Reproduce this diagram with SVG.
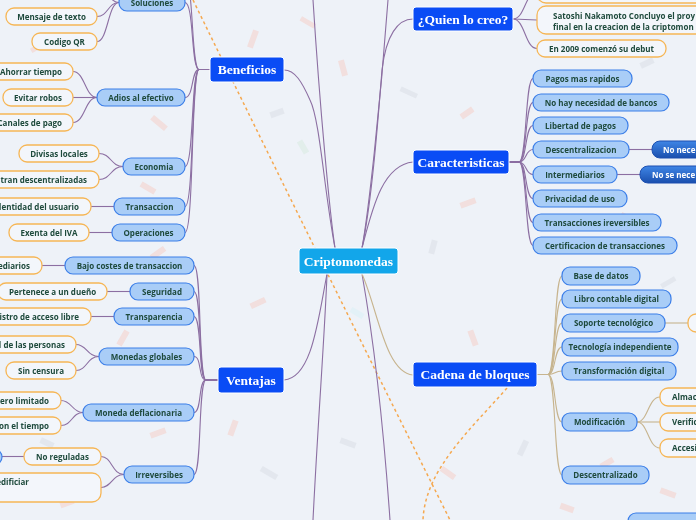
<svg xmlns="http://www.w3.org/2000/svg" width="696" height="520" viewBox="0 0 696 520">
<defs>
<style>
.bg{fill:#eef2f8}
.cf{opacity:0.4}
.main{fill:#0a4cf5;stroke:#ffffff;stroke-width:1}
.center{fill:#12a6ea;stroke:#ffffff;stroke-width:1}
.mt{font-family:"Liberation Serif",serif;font-weight:bold;font-size:13.5px;fill:#ffffff;text-anchor:middle}
.sub{fill:#a9cdf7;stroke:#3b7ee8;stroke-width:1.2}
.leaf{fill:#f3f6fb;stroke:#f6b656;stroke-width:1.3}
.dark{fill:url(#dg);stroke:#1c4fb0;stroke-width:1}
.t{font-family:"Open Sans","Noto Sans",sans-serif;font-weight:bold;font-size:8px;fill:#1e4a3c;text-anchor:middle}
.tw{font-family:"Open Sans","Noto Sans",sans-serif;font-weight:bold;font-size:8px;fill:#ffffff}
.te{text-anchor:end}
.ts{text-anchor:start}
.c{fill:none;stroke:#8c6fa2;stroke-width:1.1}
.ct{fill:none;stroke:#c7b48e;stroke-width:1.1}
.dash{fill:none;stroke:#f5a84f;stroke-width:1.5;stroke-dasharray:3 3}
</style>
<linearGradient id="dg" x1="0" y1="0" x2="0" y2="1">
<stop offset="0" stop-color="#3f86e6"/>
<stop offset="1" stop-color="#1a4fae"/>
</linearGradient>
</defs>
<rect class="bg" x="0" y="0" width="696" height="520"/>
<g id="confetti" class="cf">
<rect x="30" y="45" width="14" height="5" fill="#f8c2b6" transform="rotate(-30 37 47)"/>
<rect x="150" y="120" width="18" height="6" fill="#f8c2b6" transform="rotate(40 159 123)"/>
<rect x="250" y="30" width="6" height="18" fill="#f8c2b6" transform="rotate(20 253 39)"/>
<rect x="270" y="110" width="14" height="6" fill="#d3d8df" transform="rotate(-20 277 113)"/>
<rect x="300" y="20" width="16" height="5" fill="#f8c2b6" transform="rotate(30 308 22)"/>
<rect x="340" y="60" width="6" height="16" fill="#f8c2b6" transform="rotate(-15 343 68)"/>
<rect x="400" y="90" width="18" height="5" fill="#d3d8df" transform="rotate(25 409 92)"/>
<rect x="460" y="110" width="14" height="6" fill="#f8c2b6" transform="rotate(-35 467 113)"/>
<rect x="590" y="10" width="6" height="16" fill="#f8c2b6" transform="rotate(30 593 18)"/>
<rect x="640" y="60" width="14" height="6" fill="#d3d8df" transform="rotate(-25 647 63)"/>
<rect x="460" y="200" width="16" height="6" fill="#f8c2b6" transform="rotate(-20 468 203)"/>
<rect x="430" y="240" width="6" height="14" fill="#d3d8df" transform="rotate(15 433 247)"/>
<rect x="620" y="215" width="14" height="6" fill="#f8c2b6" transform="rotate(30 627 218)"/>
<rect x="660" y="280" width="16" height="5" fill="#d3d8df" transform="rotate(-30 668 282)"/>
<rect x="470" y="330" width="6" height="16" fill="#f8c2b6" transform="rotate(-20 473 338)"/>
<rect x="440" y="470" width="16" height="6" fill="#f8c2b6" transform="rotate(35 448 473)"/>
<rect x="520" y="440" width="6" height="16" fill="#d3d8df" transform="rotate(25 523 448)"/>
<rect x="600" y="460" width="14" height="6" fill="#f8c2b6" transform="rotate(-30 607 463)"/>
<rect x="660" y="490" width="16" height="6" fill="#f8c2b6" transform="rotate(20 668 493)"/>
<rect x="250" y="300" width="16" height="6" fill="#f8c2b6" transform="rotate(-25 258 303)"/>
<rect x="230" y="420" width="6" height="16" fill="#f8c2b6" transform="rotate(20 233 428)"/>
<rect x="260" y="470" width="18" height="6" fill="#d3d8df" transform="rotate(30 269 473)"/>
<rect x="150" y="430" width="16" height="6" fill="#f8c2b6" transform="rotate(-20 158 433)"/>
<rect x="40" y="440" width="14" height="6" fill="#d3d8df" transform="rotate(25 47 443)"/>
<rect x="120" y="330" width="6" height="16" fill="#f8c2b6" transform="rotate(30 123 338)"/>
<rect x="150" y="250" width="16" height="6" fill="#f8c2b6" transform="rotate(-35 158 253)"/>
<rect x="140" y="185" width="16" height="6" fill="#f8c2b6" transform="rotate(30 148 188)"/>
<rect x="60" y="500" width="14" height="6" fill="#f8c2b6" transform="rotate(-20 67 503)"/>
<rect x="340" y="440" width="16" height="6" fill="#d3d8df" transform="rotate(20 348 443)"/>
<rect x="300" y="140" width="6" height="14" fill="#cfe8d8" transform="rotate(-30 303 147)"/>
<rect x="350" y="310" width="14" height="6" fill="#d3f1f5" transform="rotate(30 357 313)"/>
<rect x="560" y="505" width="14" height="6" fill="#f8c2b6" transform="rotate(20 567 508)"/>
</g>
<g id="relations">
<path class="dash" d="M193,0 Q320,260 450,520"/>
<path class="dash" d="M507,388 C470,430 425,470 423,520"/>
</g>
<g id="connectors">
<path class="c" d="M335,248 C324,190 320,120 310,100 C302,82 295,70 284,70"/>
<path class="c" d="M335,248 C330,215 320,110 313,0"/>
<path class="c" d="M362,248 C368,215 380,110 388,0"/>
<path class="c" d="M362,248 C372,200 378,120 382,70 C386,35 398,19 413,19"/>
<path class="c" d="M362,248 C372,210 382,165 413,162"/>
<path class="c" d="M327,274 C318,320 312,378 284,380"/>
<path class="c" d="M327,274 C325,330 318,420 313,520"/>
<path class="c" d="M362,274 C372,330 383,420 390,520"/>
<path class="ct" d="M362,274 C378,310 385,372 413,375"/>
<path class="c" d="M210,69.5 L199,69.5 C191,69.5 194,-20 185,-20"/>
<path class="c" d="M210,69.5 L199,69.5 C191,69.5 194,2.5 185,2.5"/>
<path class="c" d="M210,69.5 L199,69.5 C191,69.5 194,97.5 185,97.5"/>
<path class="c" d="M210,69.5 L199,69.5 C191,69.5 194,166.5 185,166.5"/>
<path class="c" d="M210,69.5 L199,69.5 C191,69.5 194,206.5 185,206.5"/>
<path class="c" d="M210,69.5 L199,69.5 C191,69.5 194,232.5 185,232.5"/>
<path class="c" d="M218,380 L206,380 C198,380 202,265.5 194,265.5"/>
<path class="c" d="M218,380 L206,380 C198,380 202,291.5 194,291.5"/>
<path class="c" d="M218,380 L206,380 C198,380 202,316.5 194,316.5"/>
<path class="c" d="M218,380 L206,380 C198,380 202,356.5 194,356.5"/>
<path class="c" d="M218,380 L206,380 C198,380 202,412.5 194,412.5"/>
<path class="c" d="M218,380 L206,380 C198,380 202,474.5 194,474.5"/>
<path class="c" d="M119,2.5 C108,2.5 108,-15 97,-15"/>
<path class="c" d="M119,2.5 C108,2.5 108,16.5 97,16.5"/>
<path class="c" d="M119,2.5 C108,2.5 108,41.5 97,41.5"/>
<path class="c" d="M97,97.5 C85,97.5 85,71.5 73,71.5"/>
<path class="c" d="M97,97.5 L73,97.5"/>
<path class="c" d="M97,97.5 C85,97.5 85,122.5 73,122.5"/>
<path class="c" d="M123,166.5 C111,166.5 111,153.5 99,153.5"/>
<path class="c" d="M123,166.5 C111,166.5 111,179.5 99,179.5"/>
<path class="c" d="M114,206.5 L91,206.5"/>
<path class="c" d="M112,232.5 L89,232.5"/>
<path class="c" d="M65,265.5 L42,265.5"/>
<path class="c" d="M130,291.5 L107,291.5"/>
<path class="c" d="M114,316.5 L91,316.5"/>
<path class="c" d="M99,356.5 C87,356.5 87,344.5 76,344.5"/>
<path class="c" d="M99,356.5 C87,356.5 87,370.5 76,370.5"/>
<path class="c" d="M83,412.5 C72,412.5 72,400.5 61,400.5"/>
<path class="c" d="M83,412.5 C72,412.5 72,425.5 61,425.5"/>
<path class="c" d="M124,474.5 C112,474.5 112,456.5 101,456.5"/>
<path class="c" d="M124,474.5 C112,474.5 112,487.5 101,487.5"/>
<path class="c" d="M24,456.5 L2,456.5"/>
<path class="c" d="M513,19 C525,19 525,-8 537,-8"/>
<path class="c" d="M513,19 L537,20"/>
<path class="c" d="M513,19 C525,19 525,48.5 537,48.5"/>
<path class="c" d="M509,162 L519,162 C527,162 525,78.5 533,78.5"/>
<path class="c" d="M509,162 L519,162 C527,162 525,102.5 533,102.5"/>
<path class="c" d="M509,162 L519,162 C527,162 525,125.5 533,125.5"/>
<path class="c" d="M509,162 L519,162 C527,162 525,149.5 533,149.5"/>
<path class="c" d="M509,162 L519,162 C527,162 525,174.5 533,174.5"/>
<path class="c" d="M509,162 L519,162 C527,162 525,198.5 533,198.5"/>
<path class="c" d="M509,162 L519,162 C527,162 525,222.5 533,222.5"/>
<path class="c" d="M509,162 L519,162 C527,162 525,245.5 533,245.5"/>
<path class="c" d="M629,149.5 L652,149.5"/>
<path class="c" d="M617,174.5 L640,174.5"/>
<path class="ct" d="M537,374.5 L548,374.5 C556,374.5 554,276 562,276"/>
<path class="ct" d="M537,374.5 L548,374.5 C556,374.5 554,299 562,299"/>
<path class="ct" d="M537,374.5 L548,374.5 C556,374.5 554,323 562,323"/>
<path class="ct" d="M537,374.5 L548,374.5 C556,374.5 554,347 562,347"/>
<path class="ct" d="M537,374.5 L548,374.5 C556,374.5 554,371 562,371"/>
<path class="ct" d="M537,374.5 L548,374.5 C556,374.5 554,422 562,422"/>
<path class="ct" d="M537,374.5 L548,374.5 C556,374.5 554,475 562,475"/>
<path class="ct" d="M665,323 L688,323"/>
<path class="ct" d="M637,422 C648,422 648,397 660,397"/>
<path class="ct" d="M637,422 L660,422"/>
<path class="ct" d="M637,422 C648,422 648,448 660,448"/>
</g>
<g id="n-center"><rect class="center" x="299" y="248" width="99" height="26" rx="3"/><text class="mt" x="348.5" y="265.5">Criptomonedas</text></g>
<g id="n-beneficios"><rect class="main" x="210" y="57" width="74" height="25" rx="3"/><text class="mt" x="247" y="74">Beneficios</text></g>
<g id="n-ventajas"><rect class="main" x="218" y="367" width="66" height="26" rx="3"/><text class="mt" x="251" y="385">Ventajas</text></g>
<g id="n-quien"><rect class="main" x="413" y="7" width="100" height="24" rx="3"/><text class="mt" x="463" y="23.5">¿Quien lo creo?</text></g>
<g id="n-caracteristicas"><rect class="main" x="413" y="150" width="96" height="24" rx="3"/><text class="mt" x="461" y="166.5">Caracteristicas</text></g>
<g id="n-cadena"><rect class="main" x="413" y="362" width="124" height="25" rx="3"/><text class="mt" x="475" y="379">Cadena de bloques</text></g>
<g id="n-soluciones"><rect class="sub" x="119" y="-6" width="66" height="17" rx="8"/><text class="t" x="152" y="5.5">Soluciones</text></g>
<g id="n-mensaje"><rect class="leaf" x="6" y="8" width="91" height="17" rx="8"/><text class="t" x="51.5" y="19.5">Mensaje de texto</text></g>
<g id="n-codigo"><rect class="leaf" x="32" y="33" width="65" height="17" rx="8"/><text class="t" x="64.5" y="44.5">Codigo QR</text></g>
<g id="n-adios"><rect class="sub" x="97" y="89" width="88" height="17" rx="8"/><text class="t" x="141" y="100.5">Adios al efectivo</text></g>
<g id="n-ahorrar"><rect class="leaf" x="-10" y="63" width="83" height="17" rx="8"/><text class="t te" x="62" y="74.5">Ahorrar tiempo</text></g>
<g id="n-evitar"><rect class="leaf" x="3" y="89" width="70" height="17" rx="8"/><text class="t" x="38" y="100.5">Evitar robos</text></g>
<g id="n-canales"><rect class="leaf" x="-10" y="114" width="83" height="17" rx="8"/><text class="t te" x="62" y="125.5">Canales de pago</text></g>
<g id="n-economia"><rect class="sub" x="123" y="158" width="62" height="17" rx="8"/><text class="t" x="154" y="169.5">Economia</text></g>
<g id="n-divisas"><rect class="leaf" x="19" y="145" width="80" height="17" rx="8"/><text class="t" x="59" y="156.5">Divisas locales</text></g>
<g id="n-descentralizadas"><rect class="leaf" x="-20" y="171" width="119" height="17" rx="8"/><text class="t te" x="87" y="182.5">tran descentralizadas</text></g>
<g id="n-transaccion"><rect class="sub" x="114" y="198" width="71" height="17" rx="8"/><text class="t" x="149.5" y="209.5">Transaccion</text></g>
<g id="n-identidad"><rect class="leaf" x="-20" y="198" width="111" height="17" rx="8"/><text class="t te" x="79" y="209.5">dentidad del usuario</text></g>
<g id="n-operaciones"><rect class="sub" x="112" y="224" width="73" height="17" rx="8"/><text class="t" x="148.5" y="235.5">Operaciones</text></g>
<g id="n-exenta"><rect class="leaf" x="9" y="224" width="80" height="17" rx="8"/><text class="t" x="49" y="235.5">Exenta del IVA</text></g>
<g id="n-bajo"><rect class="sub" x="65" y="257" width="129" height="17" rx="8"/><text class="t" x="129.5" y="268.5">Bajo costes de transaccion</text></g>
<g id="n-intermediarios-l"><rect class="leaf" x="-20" y="257" width="62" height="17" rx="8"/><text class="t te" x="30" y="268.5">ediarios</text></g>
<g id="n-seguridad"><rect class="sub" x="130" y="283" width="64" height="17" rx="8"/><text class="t" x="162" y="294.5">Seguridad</text></g>
<g id="n-pertenece"><rect class="leaf" x="-2" y="283" width="109" height="17" rx="8"/><text class="t" x="52.5" y="294.5">Pertenece a un dueño</text></g>
<g id="n-transparencia"><rect class="sub" x="114" y="308" width="80" height="17" rx="8"/><text class="t" x="154" y="319.5">Transparencia</text></g>
<g id="n-registro"><rect class="leaf" x="-20" y="308" width="111" height="17" rx="8"/><text class="t te" x="79" y="319.5">istro de acceso libre</text></g>
<g id="n-monedas"><rect class="sub" x="99" y="348" width="95" height="17" rx="8"/><text class="t" x="146.5" y="359.5">Monedas globales</text></g>
<g id="n-personas"><rect class="leaf" x="-20" y="336" width="96" height="17" rx="8"/><text class="t te" x="65" y="347.5">l de las personas</text></g>
<g id="n-censura"><rect class="leaf" x="6" y="362" width="70" height="17" rx="8"/><text class="t" x="41" y="373.5">Sin censura</text></g>
<g id="n-deflacionaria"><rect class="sub" x="83" y="404" width="111" height="17" rx="8"/><text class="t" x="138.5" y="415.5">Moneda deflacionaria</text></g>
<g id="n-limitado"><rect class="leaf" x="-20" y="392" width="81" height="17" rx="8"/><text class="t te" x="49" y="403.5">ero limitado</text></g>
<g id="n-tiempo"><rect class="leaf" x="-20" y="417" width="81" height="17" rx="8"/><text class="t te" x="49" y="428.5">on el tiempo</text></g>
<g id="n-irreversibes"><rect class="sub" x="124" y="466" width="70" height="17" rx="8"/><text class="t" x="159" y="477.5">Irreversibes</text></g>
<g id="n-reguladas"><rect class="leaf" x="24" y="448" width="77" height="17" rx="8"/><text class="t" x="62.5" y="459.5">No reguladas</text></g>
<g id="n-reguladas-child"><rect class="sub" x="-60" y="449" width="62" height="16" rx="8"/></g>
<g id="n-modificiar"><rect class="leaf" x="-60" y="473" width="161" height="29" rx="9"/><text class="t te" x="29" y="485">edificiar</text></g>
<g id="n-quien-top"><rect class="leaf" x="537" y="-18" width="170" height="21" rx="9"/></g>
<g id="n-satoshi"><rect class="leaf" x="537" y="6" width="170" height="28" rx="9"/><text class="t ts" x="553" y="18.5">Satoshi Nakamoto Concluyo el proy</text><text class="t ts" x="553" y="29.5">final en la creacion de la criptomon</text></g>
<g id="n-2009"><rect class="leaf" x="537" y="40" width="129" height="17" rx="8"/><text class="t" x="601.5" y="51.5">En 2009 comenzó su debut</text></g>
<g id="n-pagos"><rect class="sub" x="533" y="70" width="99" height="17" rx="8"/><text class="t" x="582.5" y="81.5">Pagos mas rapidos</text></g>
<g id="n-bancos"><rect class="sub" x="533" y="94" width="136" height="17" rx="8"/><text class="t" x="601" y="105.5">No hay necesidad de bancos</text></g>
<g id="n-libertad"><rect class="sub" x="533" y="117" width="95" height="17" rx="8"/><text class="t" x="580.5" y="128.5">Libertad de pagos</text></g>
<g id="n-descentralizacion"><rect class="sub" x="533" y="141" width="96" height="17" rx="8"/><text class="t" x="581" y="152.5">Descentralizacion</text></g>
<g id="n-nonece"><rect class="dark" x="652" y="141" width="80" height="17" rx="8"/><text class="tw" x="663" y="152.5">No nece</text></g>
<g id="n-intermediarios"><rect class="sub" x="533" y="166" width="84" height="17" rx="8"/><text class="t" x="575" y="177.5">Intermediarios</text></g>
<g id="n-nosenece"><rect class="dark" x="640" y="166" width="90" height="17" rx="8"/><text class="tw" x="652" y="177.5">No se nece</text></g>
<g id="n-privacidad"><rect class="sub" x="533" y="190" width="94" height="17" rx="8"/><text class="t" x="580" y="201.5">Privacidad de uso</text></g>
<g id="n-ireversibles"><rect class="sub" x="533" y="214" width="128" height="17" rx="8"/><text class="t" x="597" y="225.5">Transacciones ireversibles</text></g>
<g id="n-certificacion"><rect class="sub" x="533" y="237" width="144" height="17" rx="8"/><text class="t" x="605" y="248.5">Certificacion de transacciones</text></g>
<g id="n-base"><rect class="sub" x="562" y="267" width="78" height="18" rx="8"/><text class="t" x="601" y="279">Base de datos</text></g>
<g id="n-libro"><rect class="sub" x="562" y="290" width="109" height="18" rx="8"/><text class="t" x="616.5" y="302">Libro contable digital</text></g>
<g id="n-soporte"><rect class="sub" x="562" y="314" width="103" height="18" rx="8"/><text class="t" x="613.5" y="326">Soporte tecnológico</text></g>
<g id="n-soporte-child"><rect class="leaf" x="688" y="314" width="40" height="18" rx="8"/></g>
<g id="n-tecnologia"><rect class="sub" x="562" y="338" width="116" height="18" rx="8"/><text class="t" x="620" y="350">Tecnología independiente</text></g>
<g id="n-transformacion"><rect class="sub" x="562" y="362" width="114" height="18" rx="8"/><text class="t" x="619" y="374">Transformación digital</text></g>
<g id="n-modificacion"><rect class="sub" x="562" y="413" width="75" height="18" rx="8"/><text class="t" x="599.5" y="425">Modificación</text></g>
<g id="n-almac"><rect class="leaf" x="660" y="388" width="60" height="18" rx="8"/><text class="t ts" x="672" y="400">Almac</text></g>
<g id="n-verific"><rect class="leaf" x="660" y="413" width="60" height="18" rx="8"/><text class="t ts" x="672" y="425">Verific</text></g>
<g id="n-accesi"><rect class="leaf" x="660" y="439" width="60" height="18" rx="8"/><text class="t ts" x="672" y="451">Accesi</text></g>
<g id="n-descentralizado"><rect class="sub" x="562" y="466" width="87" height="18" rx="8"/><text class="t" x="605.5" y="478">Descentralizado</text></g>
<g id="n-bottom"><rect class="sub" x="628" y="513" width="90" height="18" rx="8"/></g>
</svg>
